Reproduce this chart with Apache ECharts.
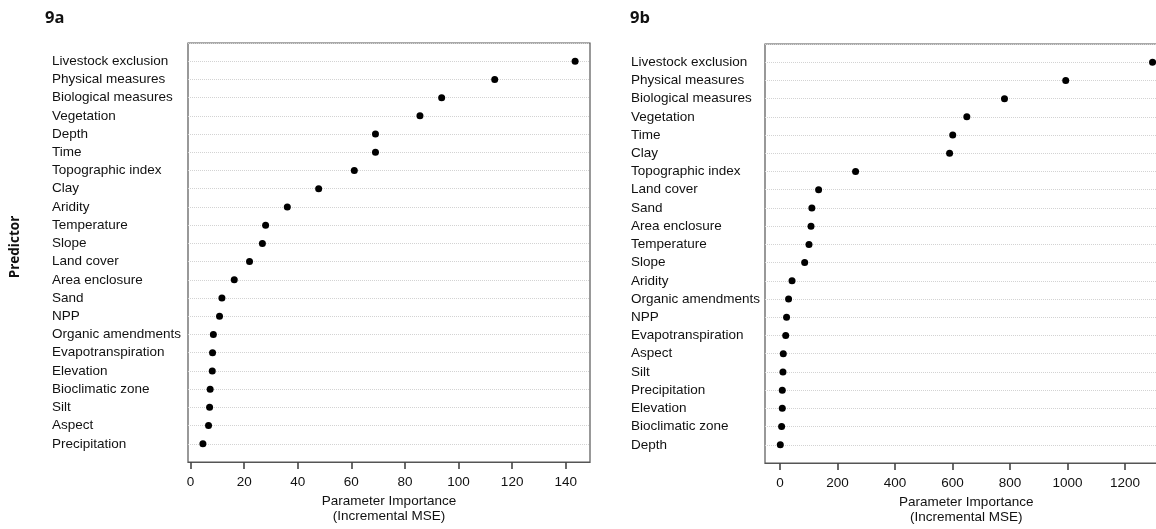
<!DOCTYPE html>
<html><head><meta charset="utf-8">
<script src="https://cdn.jsdelivr.net/npm/echarts@6/dist/echarts.min.js"></script>
<style>html,body{margin:0;padding:0;background:#fff}#c{width:1156px;height:529px}</style>
</head><body><div id="c"></div>
<script>
const predictorsA = ["Livestock exclusion","Physical measures","Biological measures","Vegetation","Depth","Time","Topographic index","Clay","Aridity","Temperature","Slope","Land cover","Area enclosure","Sand","NPP","Organic amendments","Evapotranspiration","Elevation","Bioclimatic zone","Silt","Aspect","Precipitation"];
const importanceA = [143.5,113.5,93.7,85.6,69.0,69.0,61.1,47.8,36.1,28.0,26.8,22.0,16.3,11.7,10.8,8.5,8.2,8.1,7.3,7.1,6.7,4.6];
const ticksA = [0,20,40,60,80,100,120,140];

const predictorsB = ["Livestock exclusion","Physical measures","Biological measures","Vegetation","Time","Clay","Topographic index","Land cover","Sand","Area enclosure","Temperature","Slope","Aridity","Organic amendments","NPP","Evapotranspiration","Aspect","Silt","Precipitation","Elevation","Bioclimatic zone","Depth"];
const importanceB = [1296,994,781,650,601,590,263,134.5,111,108,101,86,42,30,23,20,11.6,10.4,8.1,8.1,5.8,1.2];
const ticksB = [0,200,400,600,800,1000,1200];

const FONT = 'Liberation Sans';
const txt = '#111';

function xAxis(gi, min, max, ticks) {
  return {
    type: 'value', gridIndex: gi, min: min, max: max, position: 'bottom',
    axisLine: {show: true, onZero: false, lineStyle: {color: '#555', width: 1.2}}, splitLine: {show: false},
    axisTick: {show: true, inside: false, customValues: ticks, length: 7, lineStyle: {color: '#444', width: 1.6}},
    axisLabel: {customValues: ticks, margin: 13, fontSize: 13.5, color: txt, fontFamily: FONT,
      formatter: v => String(v)},
    name: 'Parameter Importance\n(Incremental MSE)', nameLocation: 'middle', nameGap: 25,
    nameTextStyle: {fontSize: 13.5, lineHeight: 15, color: txt, fontFamily: FONT}
  };
}
function yAxis(gi, names, margin) {
  return {
    type: 'value', gridIndex: gi, inverse: true, min: 0, max: names.length + 1, interval: 1,
    axisLine: {show: false, onZero: false}, axisTick: {show: false},
    splitLine: {show: true, lineStyle: {type: 'dotted', color: '#d3d3d3', width: 1}},
    axisLabel: {align: 'left', margin: margin, fontSize: 13.5, color: txt, fontFamily: FONT,
      formatter: v => names[v - 1] || ''}
  };
}

const chart = echarts.init(document.getElementById('c'), null, {renderer: 'canvas'});
chart.setOption({
  animation: false,
  backgroundColor: '#fff',
  title: [
    {text: '9a', left: 45, top: 10, padding: 0, textStyle: {fontSize: 16.5, fontWeight: 'bold', fontFamily: 'Open Sans', color: txt}},
    {text: '9b', left: 630, top: 10, padding: 0, textStyle: {fontSize: 16.5, fontWeight: 'bold', fontFamily: 'Open Sans', color: txt}}
  ],
  graphic: [{
    type: 'text', x: 15, y: 247, rotation: Math.PI / 2,
    style: {text: 'Predictor', fontSize: 13.5, fontWeight: 'bold', fontFamily: 'Open Sans', fill: txt, align: 'center', verticalAlign: 'middle'}
  }],
  grid: [
    {left: 188, top: 43, width: 402, height: 419, show: true, borderColor: '#555', borderWidth: 1.2, backgroundColor: 'transparent', containLabel: false, outerBoundsMode: 'none'},
    {left: 765, top: 44, width: 402.5, height: 419, show: true, borderColor: '#555', borderWidth: 1.2, backgroundColor: 'transparent', containLabel: false, outerBoundsMode: 'none'}
  ],
  xAxis: [xAxis(0, -0.96, 149.06, ticksA), xAxis(1, -52, 1348, ticksB)],
  yAxis: [yAxis(0, predictorsA, 136), yAxis(1, predictorsB, 134)],
  series: [
    {type: 'scatter', xAxisIndex: 0, yAxisIndex: 0, symbol: 'circle', symbolSize: 7, itemStyle: {color: '#000', opacity: 1},
      data: importanceA.map((v, i) => [v, i + 1])},
    {type: 'scatter', xAxisIndex: 1, yAxisIndex: 1, symbol: 'circle', symbolSize: 7, itemStyle: {color: '#000', opacity: 1},
      data: importanceB.map((v, i) => [v, i + 1])}
  ]
});
</script>
</body></html>
